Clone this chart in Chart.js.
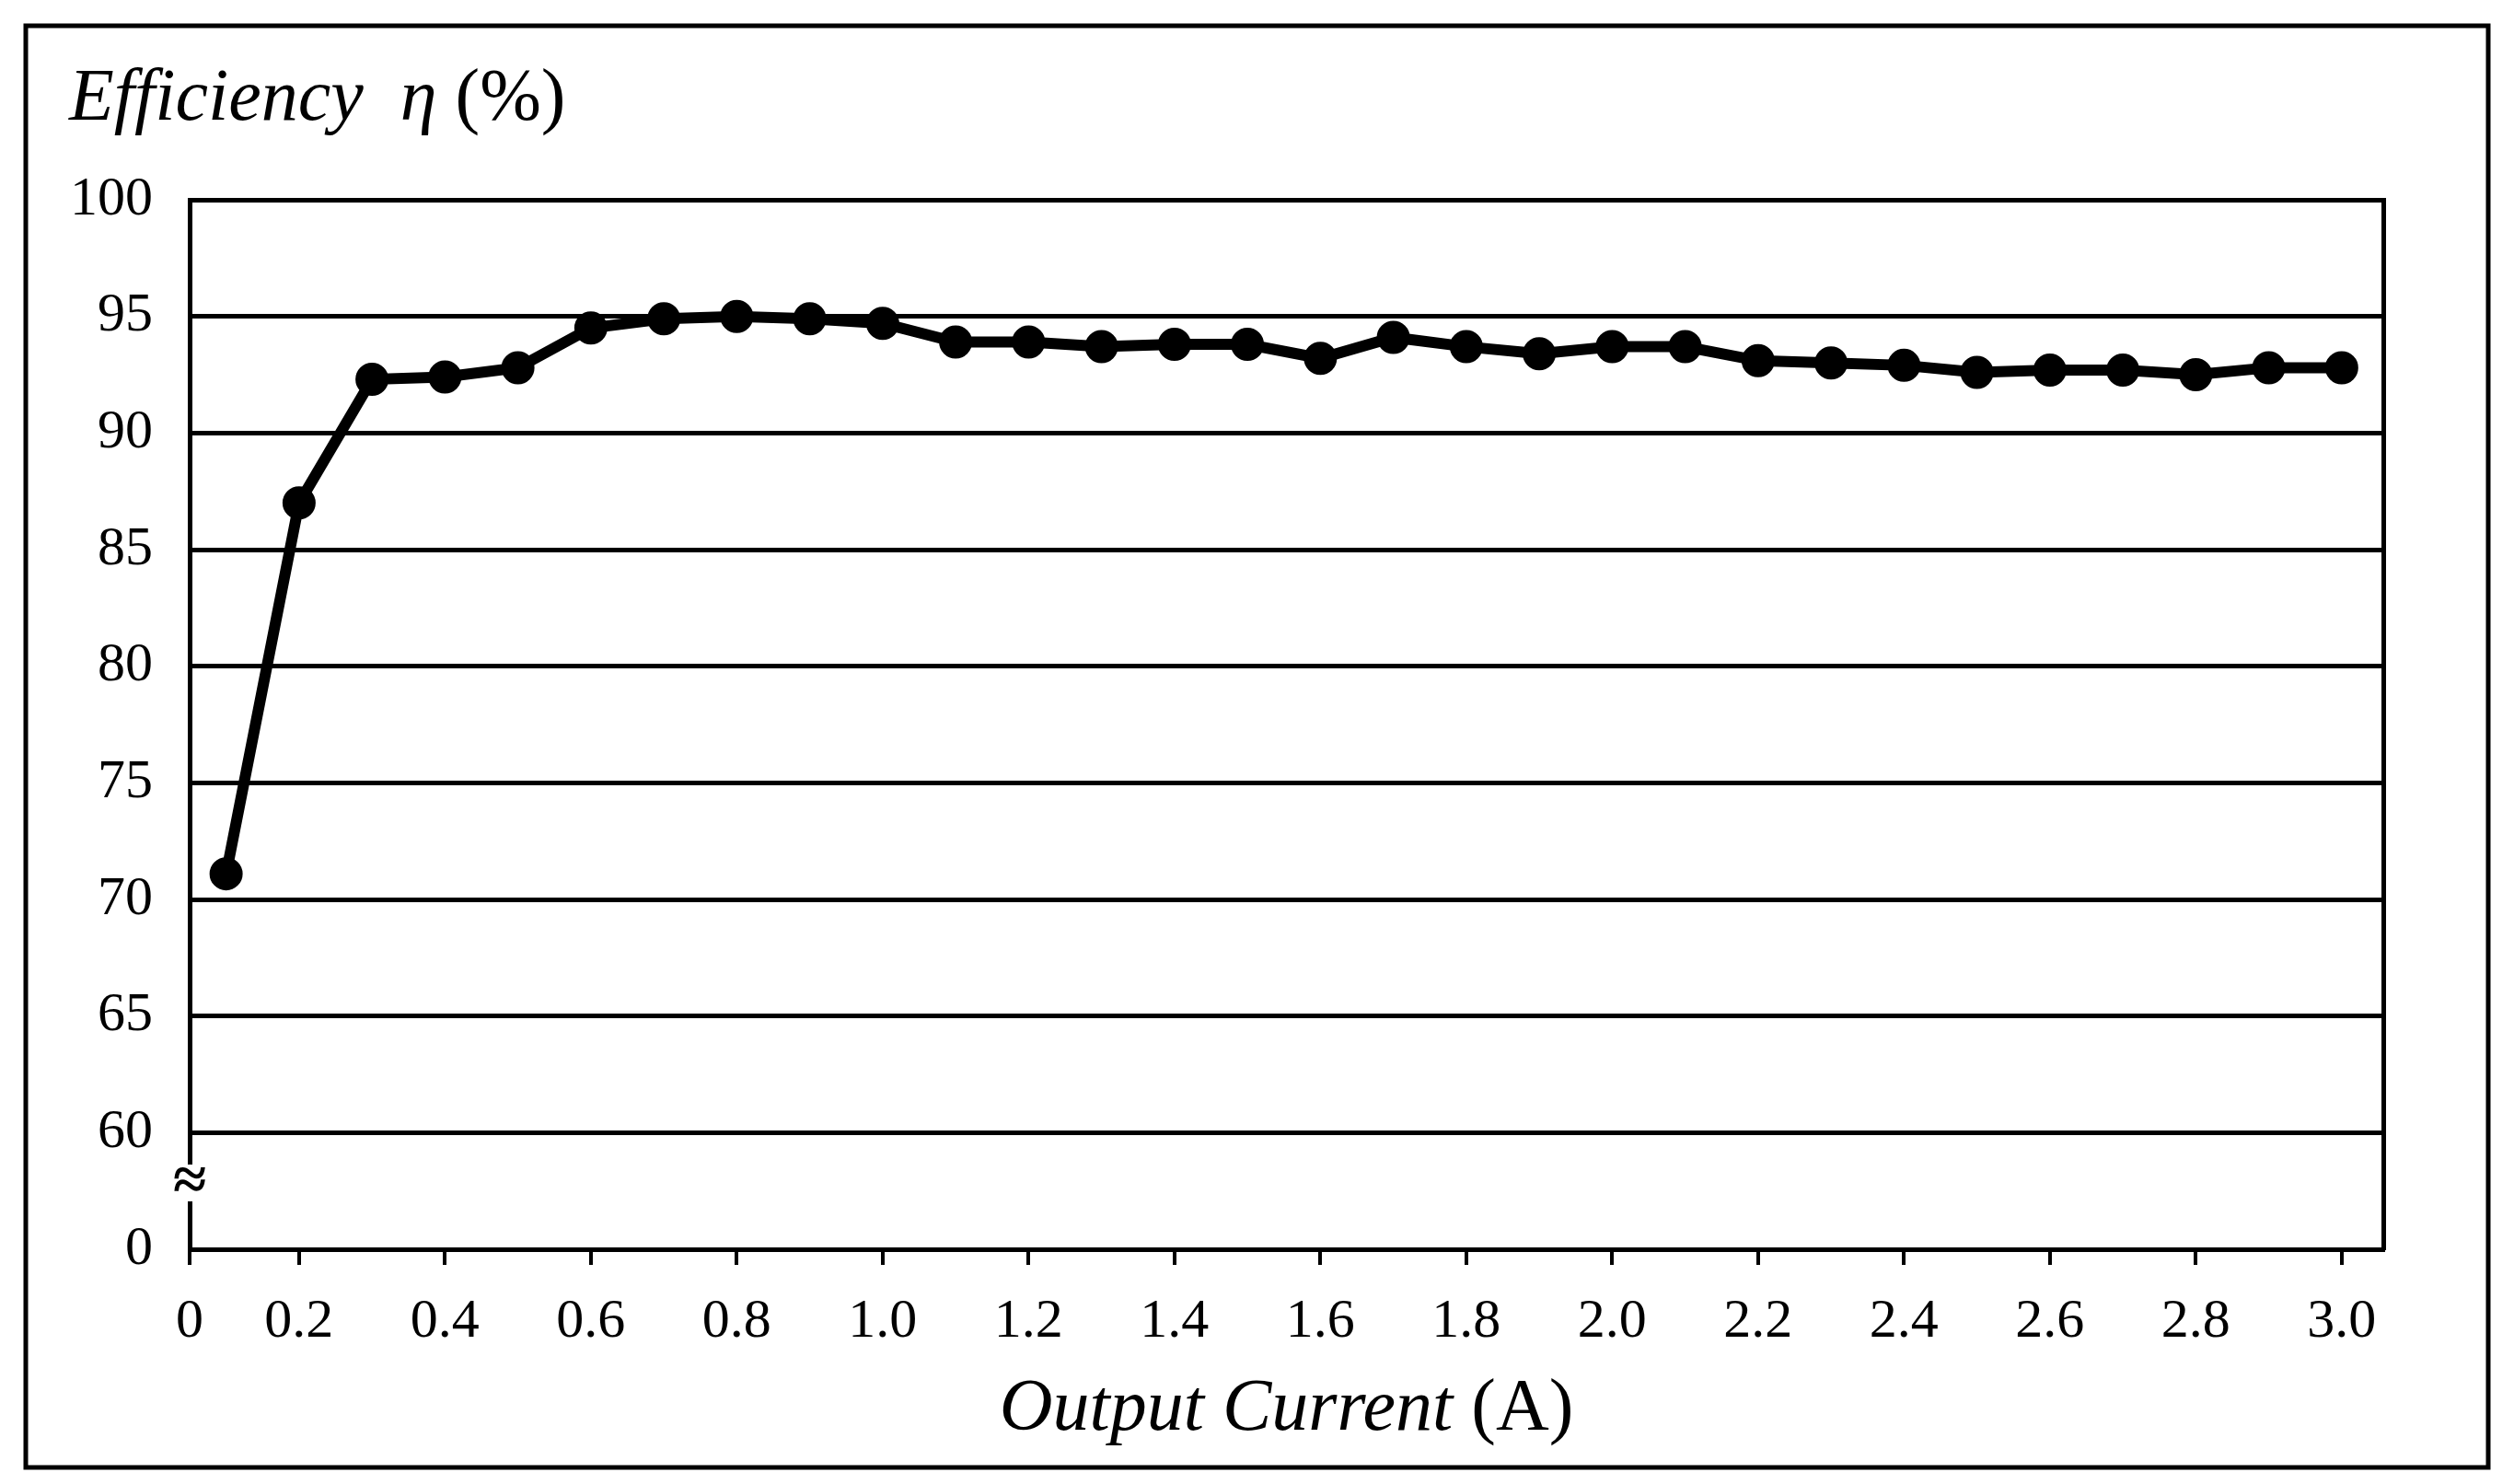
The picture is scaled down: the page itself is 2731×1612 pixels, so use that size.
<!DOCTYPE html>
<html>
<head>
<meta charset="utf-8">
<script src="https://cdn.jsdelivr.net/npm/chart.js@4"></script>
<style>
  html, body { margin: 0; padding: 0; background: #fff; }
  #wrap { width: 2731px; height: 1612px; }
</style>
</head>
<body>
<div id="wrap"><canvas id="eff"></canvas></div>
<script>
// output current (A) and efficiency (%)
const currents = [0.1, 0.2, 0.3, 0.4, 0.5, 0.6, 0.7, 0.8, 0.9, 1.0,
                  1.1, 1.2, 1.3, 1.4, 1.5, 1.6, 1.7, 1.8, 1.9, 2.0,
                  2.1, 2.2, 2.3, 2.4, 2.5, 2.6, 2.7, 2.8, 2.9, 3.0];
const efficiency = [71.1, 87.0, 92.3, 92.4, 92.8, 94.5, 94.9, 95.0, 94.9, 94.7,
                    93.9, 93.9, 93.7, 93.8, 93.8, 93.2, 94.1, 93.7, 93.4, 93.7,
                    93.7, 93.1, 93.0, 92.9, 92.6, 92.7, 92.7, 92.5, 92.8, 92.8];
const yTickLabels = ['0', '60', '65', '70', '75', '80', '85', '90', '95', '100'];
const xTickValues = [0.05, 0.2, 0.4, 0.6, 0.8, 1.0, 1.2, 1.4, 1.6, 1.8, 2.0, 2.2, 2.4, 2.6, 2.8, 3.0];

// broken y axis: 0 at the bottom, then 60..100 in equal steps
const toAxis = v => v < 60 ? v / 60 : (v - 55) / 5;

const FONT = "'Liberation Serif', 'Times New Roman', serif";

const decor = {
  id: 'decor',
  afterDraw(chart) {
    const ctx = chart.ctx;
    const a = chart.chartArea;
    ctx.save();
    // outer frame
    ctx.strokeStyle = '#000';
    ctx.lineWidth = 5;
    ctx.strokeRect(28, 28, 2675, 1566);
    // axis break mark
    ctx.fillStyle = '#fff';
    ctx.fillRect(a.left - 14, 1265, 28, 40);
    ctx.fillStyle = '#000';
    ctx.font = 'bold 66px ' + FONT;
    ctx.textAlign = 'center';
    ctx.textBaseline = 'middle';
    ctx.fillText('≈', a.left, 1286);
    // y title
    ctx.textAlign = 'left';
    ctx.textBaseline = 'alphabetic';
    ctx.font = 'italic 80px ' + FONT;
    const t1 = 'Efficiency  η ';
    ctx.fillText(t1, 75, 130);
    const w1 = ctx.measureText(t1).width;
    ctx.font = '80px ' + FONT;
    ctx.fillText('(%)', 75 + w1, 130);
    // x title
    ctx.font = 'italic 80px ' + FONT;
    const t2 = 'Output Current ';
    const w2 = ctx.measureText(t2).width;
    ctx.font = '80px ' + FONT;
    const w3 = ctx.measureText('(A)').width;
    const x0 = (a.left + a.right) / 2 - (w2 + w3) / 2;
    ctx.font = 'italic 80px ' + FONT;
    ctx.fillText(t2, x0, 1553);
    ctx.font = '80px ' + FONT;
    ctx.fillText('(A)', x0 + w2, 1553);
    ctx.restore();
  }
};

new Chart(document.getElementById('eff'), {
  type: 'line',
  data: {
    datasets: [{
      data: currents.map((c, i) => ({ x: c, y: toAxis(efficiency[i]) })),
      borderColor: '#000',
      backgroundColor: '#000',
      borderWidth: 12,
      pointRadius: 12,
      pointHoverRadius: 12,
      tension: 0
    }]
  },
  options: {
    responsive: true,
    maintainAspectRatio: false,
    animation: false,
    layout: { padding: { left: 30, top: 217, right: 142, bottom: 0 } },
    plugins: { legend: { display: false }, tooltip: { enabled: false } },
    scales: {
      x: {
        type: 'linear',
        min: 0.05,
        max: 3.057,
        afterBuildTicks: s => { s.ticks = xTickValues.map(v => ({ value: v })); },
        afterFit: s => { s.height = 255; },
        ticks: {
          color: '#000',
          font: { family: FONT, size: 60 },
          padding: 26,
          maxRotation: 0,
          callback: v => v < 0.1 ? '0' : v.toFixed(1)
        },
        grid: { drawOnChartArea: false, color: '#000', lineWidth: 4, tickLength: 17 },
        border: { color: '#000', width: 5 }
      },
      y: {
        min: 0,
        max: 9,
        afterBuildTicks: s => { s.ticks = yTickLabels.map((_, i) => ({ value: i })); },
        afterFit: s => { s.width = 176; },
        ticks: {
          color: '#000',
          font: { family: FONT, size: 60 },
          padding: 40,
          callback: (v, i) => yTickLabels[i]
        },
        grid: { color: '#000', lineWidth: 5, drawTicks: false },
        border: { color: '#000', width: 5 }
      },
      y2: {
        position: 'right',
        min: 0, max: 9,
        ticks: { display: false },
        grid: { display: false },
        border: { color: '#000', width: 5 },
        afterFit: s => { s.width = 0; }
      }
    }
  },
  plugins: [decor]
});
</script>
</body>
</html>
